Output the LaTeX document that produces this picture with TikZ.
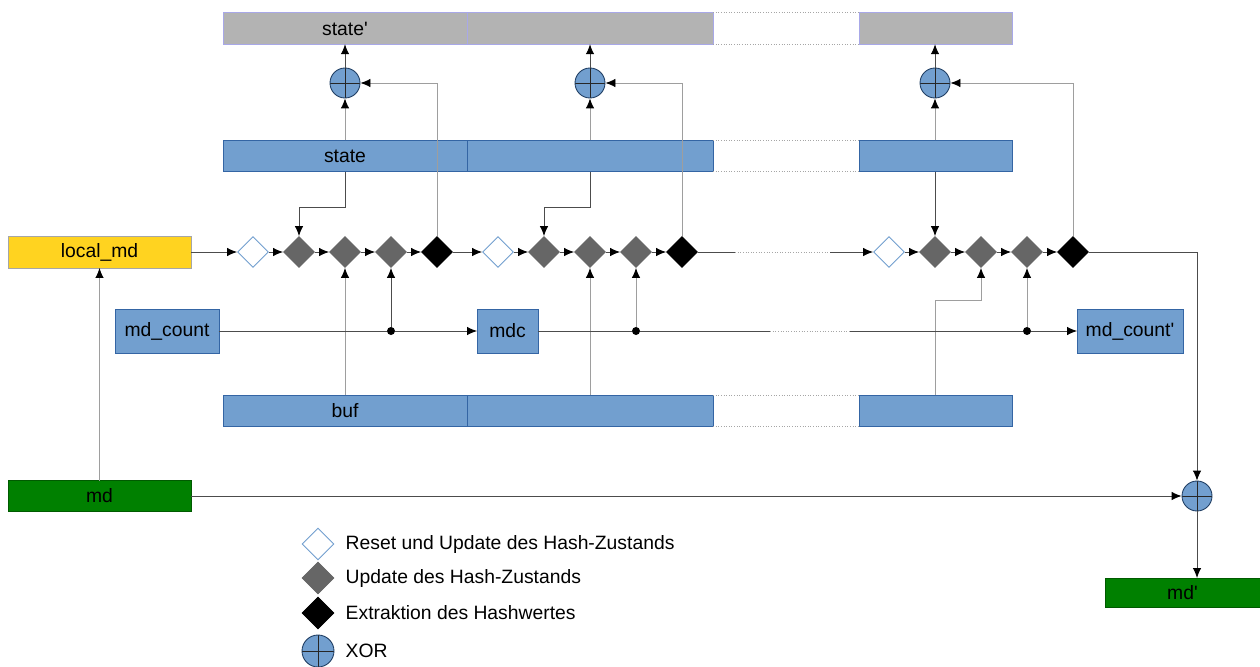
\documentclass[tikz,border=0pt]{standalone}
\usepackage{fontspec}
\setmainfont{Liberation Sans}
\usetikzlibrary{arrows.meta,positioning,calc,shapes.geometric}
\definecolor{blu}{HTML}{729FCF}
\definecolor{bluln}{HTML}{3465A4}
\definecolor{grn}{HTML}{008000}
\definecolor{ylw}{HTML}{FFD320}
\definecolor{gry}{HTML}{B3B3B3}
\definecolor{gryln}{HTML}{A8A8E8}
\definecolor{dgry}{HTML}{666666}

\begin{document}
\begin{tikzpicture}[x=0.02cm,y=-0.02cm,line width=0.5pt,
    box/.style={rectangle,inner sep=0,outer sep=0,font=\fontsize{11}{13}\selectfont},
    bbox/.style={box,fill=blu,draw=bluln},
    sbox/.style={box,fill=gry,draw=gryln},
    gbox/.style={box,fill=grn,draw=grn!70!black},
    ybox/.style={box,fill=ylw,draw=black!35},
    dmd/.style={diamond,inner sep=0,minimum size=0.62cm},
    rst/.style={dmd,fill=white,draw=blu},
    upd/.style={dmd,fill=dgry,draw=dgry},
    ext/.style={dmd,fill=black,draw=black},
    xor/.style={circle,fill=blu,draw=bluln!60!black,minimum size=0.6cm,inner sep=0,
        path picture={\draw[black!85] (path picture bounding box.north) -- (path picture bounding box.south)
            (path picture bounding box.west) -- (path picture bounding box.east);}},
    dot/.style={circle,fill=black,minimum size=0.16cm,inner sep=0},
    arr/.style={-{Latex[length=2mm,width=1.7mm,color=black]}},
    ln/.style={draw=black!70},
    lt/.style={draw=black!38},
    gapln/.style={draw=black!35,densely dotted},
    lbl/.style={font=\fontsize{11}{13}\selectfont}
]
    \useasboundingbox (0,0) rectangle (1260,666);

    % Bars: state', state, buf
    \foreach \bn/\y/\s/\t in {sp/28.5/sbox/state\textquotesingle, st/156/bbox/state, bf/411/bbox/buf} {
        \node[\s,minimum width=4.88cm,minimum height=0.63cm] (\bn A) at (345,\y) {\t};
        \node[\s,minimum width=4.92cm,minimum height=0.63cm] (\bn B) at (590,\y) {};
        \node[\s,minimum width=3.06cm,minimum height=0.63cm] (\bn C) at (935.5,\y) {};
        \draw[gapln] (\bn B.north east) -- (\bn C.north west) (\bn B.south east) -- (\bn C.south west);
    }

    % Input and output boxes
    \node[ybox,minimum width=3.66cm,minimum height=0.64cm] (lmd) at (99.5,252) {local\_md};
    \node[gbox,minimum width=3.66cm,minimum height=0.62cm] (md) at (99.5,496) {md};
    \node[bbox,minimum width=2.08cm,minimum height=0.88cm] (mdcnt) at (167,331) {md\_count};
    \node[bbox,minimum width=1.22cm,minimum height=0.88cm] (mdc) at (507.5,331) {mdc};
    \node[bbox,minimum width=2.12cm,minimum height=0.88cm] (mdcnt2) at (1130,331) {md\_count\textquotesingle};
    \node[gbox,minimum width=3.1cm,minimum height=0.58cm] (mdp) at (1182.5,592.5) {md\textquotesingle};

    % XOR nodes
    \node[xor] (x1) at (345,83) {};
    \node[xor] (x2) at (590,83) {};
    \node[xor] (x3) at (935,83) {};
    \node[xor] (x4) at (1197,496) {};

    % Diamond chains
    \foreach \g/\x in {1/253,2/498,3/889} {
        \node[rst] (w\g) at (\x,252) {};
        \foreach \k in {1,2,3} { \node[upd] (u\g\k) at ({\x+46*\k},252) {}; }
        \node[ext] (e\g) at ({\x+184},252) {};
        \draw[ln,arr] (w\g) -- (u\g1);
        \draw[ln,arr] (u\g1) -- (u\g2);
        \draw[ln,arr] (u\g2) -- (u\g3);
        \draw[ln,arr] (u\g3) -- (e\g);
    }

    % Counter taps
    \node[dot] (d1) at (391,331) {};
    \node[dot] (d2) at (636,331) {};
    \node[dot] (d3) at (1027,331) {};
    \coordinate (c1) at (770,331);
    \coordinate (c2) at (850,331);
    \coordinate (r1) at (735,252);
    \coordinate (r2) at (830,252);

    % state -> XOR -> state'
    \foreach \i/\c in {1/A,2/B,3/C} {
        \draw[lt,arr] (st\c.north -| x\i) -- (x\i);
        \draw[ln,arr] (x\i) -- (sp\c.south -| x\i);
        \draw[lt,arr] (e\i) |- (x\i);
    }

    % state -> first update
    \draw[ln,arr] (stA.south) -- ++(0,36) -| (u11);
    \draw[ln,arr] (stB.south) -- ++(0,36) -| (u21);
    \draw[ln,arr] (stC.south -| x3) -- (u31);

    % buf -> updates
    \draw[lt,arr] (bfA.north) -- (u12);
    \draw[lt,arr] (bfB.north) -- (u22);
    \draw[lt,arr] (bfC.north -| x3) -- ++(0,-95) -| (u32);

    % md_count chain
    \draw[ln] (mdcnt) -- (d1);
    \draw[ln,arr] (d1) -- (mdc);
    \draw[ln,arr] (d1) -- (u13);
    \draw[ln] (mdc) -- (d2) -- (c1);
    \draw[gapln] (c1) -- (c2);
    \draw[ln] (c2) -- (d3);
    \draw[ln,arr] (d3) -- (mdcnt2);
    \draw[lt,arr] (d2) -- (u23);
    \draw[lt,arr] (d3) -- (u33);

    % Main row and md
    \draw[ln,arr] (lmd) -- (w1);
    \draw[ln,arr] (e1) -- (w2);
    \draw[ln] (e2) -- (r1);
    \draw[gapln] (r1) -- (r2);
    \draw[ln,arr] (r2) -- (w3);
    \draw[ln,arr] (e3) -| (x4);
    \draw[ln,arr] (md) -- (x4);
    \draw[ln,arr] (x4) -- (x4 |- mdp.north);
    \draw[lt,arr] (md) -- (lmd);

    % Legend
    \foreach \s/\y/\t [count=\i] in {rst/544/Reset und Update des Hash-Zustands,
        upd/578/Update des Hash-Zustands, ext/613/Extraktion des Hashwertes, xor/651/XOR} {
        \node[\s,minimum size=0.64cm] (key\i) at (318,\y) {};
        \node[lbl,right=0.1cm of key\i] (txt\i) {\t};
    }
\end{tikzpicture}
\end{document}
